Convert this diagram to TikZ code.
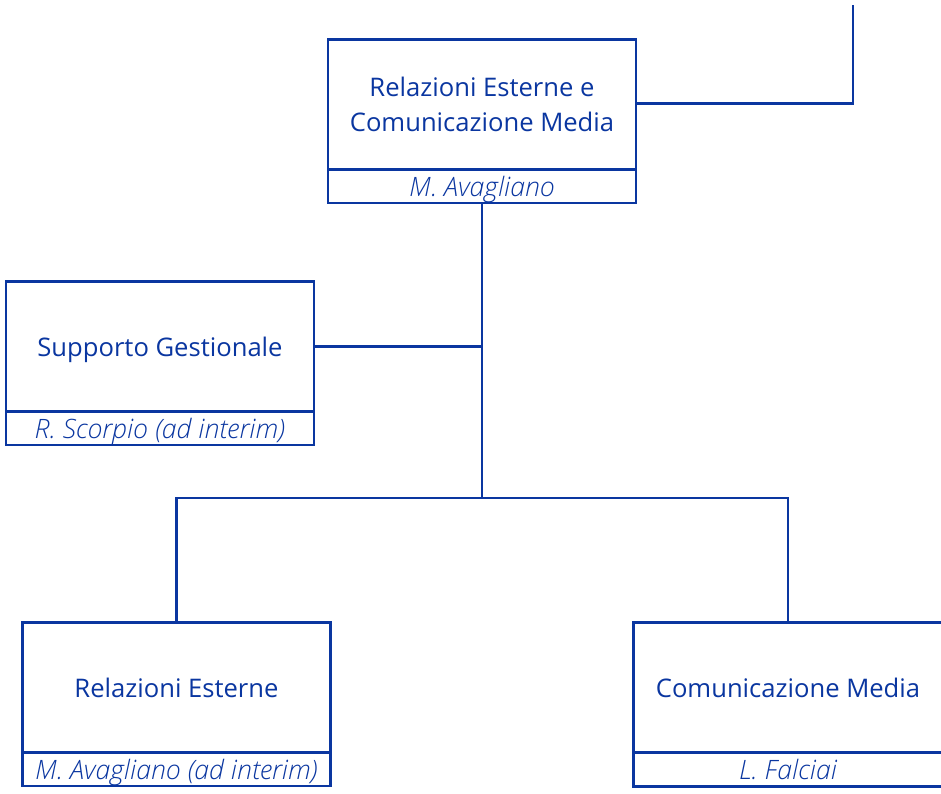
\documentclass[tikz,border=0pt]{standalone}
\usepackage{fontspec}
\setmainfont{Open Sans}
\newfontfamily\lightit{Open Sans Light Italic}
\definecolor{orgblue}{HTML}{0A36A0}
\begin{document}
\begin{tikzpicture}[x=1pt,y=-1pt,
  line width=2.6pt, draw=orgblue,
  unit/.style={draw=orgblue, line width=2.6pt, minimum width=308pt, minimum height=130pt,
    inner sep=0pt, outer sep=0pt, align=center, text=orgblue, text depth=0pt,
    font=\fontsize{25.6}{35}\selectfont, anchor=north west},
  head/.style={draw=orgblue, line width=2.6pt, minimum width=308pt, minimum height=33.5pt,
    inner sep=0pt, outer sep=0pt, text=orgblue, text depth=0pt,
    font=\fontsize{26.7}{28}\lightit, anchor=north},
  link/.style={draw=orgblue, line width=2.6pt}]
\useasboundingbox (0,0) rectangle (941,793);
% top unit
\node[unit] (top) at (328,39.5) {Relazioni Esterne e\\Comunicazione Media};
\node[head] (topn) at (top.south) {M. Avagliano};
% staff unit
\node[unit] (sup) at (6,281.5) {Supporto Gestionale};
\node[head] (supn) at (sup.south) {R. Scorpio (ad interim)};
% bottom units
\node[unit] (rel) at (22.5,622.5) {Relazioni Esterne};
\node[head] (reln) at (rel.south) {M. Avagliano (ad interim)};
\node[unit, minimum width=309pt, anchor=north, draw=none] (com) at (788,622.5) {Comunicazione Media};
\node[head, minimum width=309pt, draw=none] (comn) at (com.south) {L. Falciai};
\draw[link] (948,622.5) -- (633.5,622.5) -- (633.5,786.5) -- (948,786.5);
\draw[link] (633.5,752.5) -- (948,752.5);
% connectors
\coordinate (up) at (853,5);
\coordinate (j1) at (topn.south |- sup.east);
\coordinate (j2) at (topn.south |- 0,498);
\draw[link] (top.east |- 0,103.5) -| (up);
\draw[link] (topn.south) -- (j2);
\draw[link] (sup.east) -- (j1);
\draw[link] (rel.north) |- (j2) -| (com.north);
\end{tikzpicture}
\end{document}
